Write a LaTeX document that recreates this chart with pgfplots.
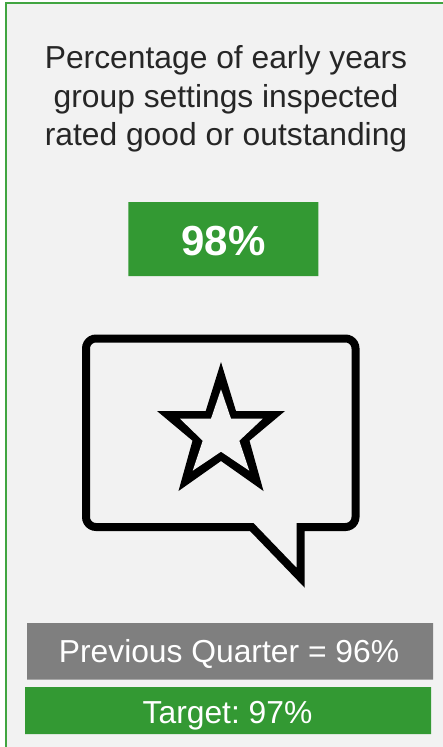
\documentclass[border=0pt]{standalone}
\usepackage{pgfplots}
\pgfplotsset{compat=1.18}
\usepackage{fontspec}
\setmainfont{Liberation Sans}
\frenchspacing
\definecolor{panel}{HTML}{F2F2F2}
\definecolor{edge}{HTML}{41A541}
\definecolor{boxgreen}{HTML}{339933}
\definecolor{boxgrey}{HTML}{7F7F7F}
\definecolor{ink}{HTML}{262626}
\begin{document}
\begin{tikzpicture}
\begin{axis}[
    scale only axis,
    width=443pt,
    height=747pt,
    xmin=0, xmax=443,
    ymin=0, ymax=747,
    y dir=reverse,
    hide axis,
    clip=true,
    every axis plot/.append style={line join=miter, miter limit=10},
]
% white page first, so the picture keeps its full size
\addplot[fill=white, draw=none] coordinates {(0,0) (443,0) (443,747) (0,747) (0,0)};
% panel and its green edge
\addplot[fill=panel, draw=none] coordinates {(6,2.7) (443,2.7) (443,747) (6,747) (6,2.7)};
\addplot[draw=edge, line width=2.4pt] coordinates {(6,747) (6,2.7) (443,2.7)};
% boxes
\addplot[fill=boxgreen, draw=none] coordinates {(128.3,202) (318.3,202) (318.3,276) (128.3,276) (128.3,202)};
\addplot[fill=boxgrey, draw=none] coordinates {(27,623) (433,623) (433,679.7) (27,679.7) (27,623)};
\addplot[fill=boxgreen, draw=none] coordinates {(25,687) (431,687) (431,734) (25,734) (25,687)};
% speech bubble
\addplot[draw=black, line width=8pt] coordinates {
    (86,430) (86,348.5) (86.34,345.9) (87.34,343.5) (88.93,341.43) (91,339.84) (93.41,338.84) (96,338.5)
    (345.5,338.5) (348.09,338.84) (350.5,339.84) (352.57,341.43) (354.16,343.5) (355.16,345.91) (355.5,348.5)
    (355.5,517) (355.16,519.59) (354.16,522) (352.57,524.07) (350.5,525.66) (348.09,526.66) (345.5,527)
    (300.5,527) (300.5,577.6) (251.7,527)
    (96,527) (93.41,526.66) (91,525.66) (88.93,524.07) (87.34,522) (86.34,519.59) (86,517) (86,430)
};
% star
\addplot[fill=black, draw=none] coordinates {
    (221,362) (236,411) (285,411) (249.5,440.7) (263.5,491) (221,461) (178.5,491) (192.5,440.7) (157,411) (205.7,411) (221,362)
};
\addplot[fill=panel, draw=none] coordinates {
    (221,389.3) (231,418.7) (262.7,418.7) (239.3,440.7) (249.3,470.7) (221,451.7) (192.7,470.7) (202.7,440.7) (180,418.7) (211,418.7) (221,389.3)
};
% text
\node[anchor=base, inner sep=0pt, text=ink, font=\fontsize{31.8}{36}\selectfont] at (axis cs:226,68) {Percentage of early years};
\node[anchor=base, inner sep=0pt, text=ink, font=\fontsize{31.8}{36}\selectfont] at (axis cs:226,107) {group settings inspected};
\node[anchor=base, inner sep=0pt, text=ink, font=\fontsize{31.8}{36}\selectfont] at (axis cs:226,145) {rated good or outstanding};
\node[anchor=base, inner sep=0pt, text=white, font=\fontsize{42}{48}\selectfont\bfseries] at (axis cs:223.5,255.7) {98\%};
\node[anchor=base, inner sep=0pt, text=white, font=\fontsize{31.8}{36}\selectfont] at (axis cs:229,662.7) {Previous Quarter = 96\%};
\node[anchor=base, inner sep=0pt, text=white, font=\fontsize{31.8}{36}\selectfont] at (axis cs:227.5,723) {Target: 97\%};
\end{axis}
\end{tikzpicture}
\end{document}
